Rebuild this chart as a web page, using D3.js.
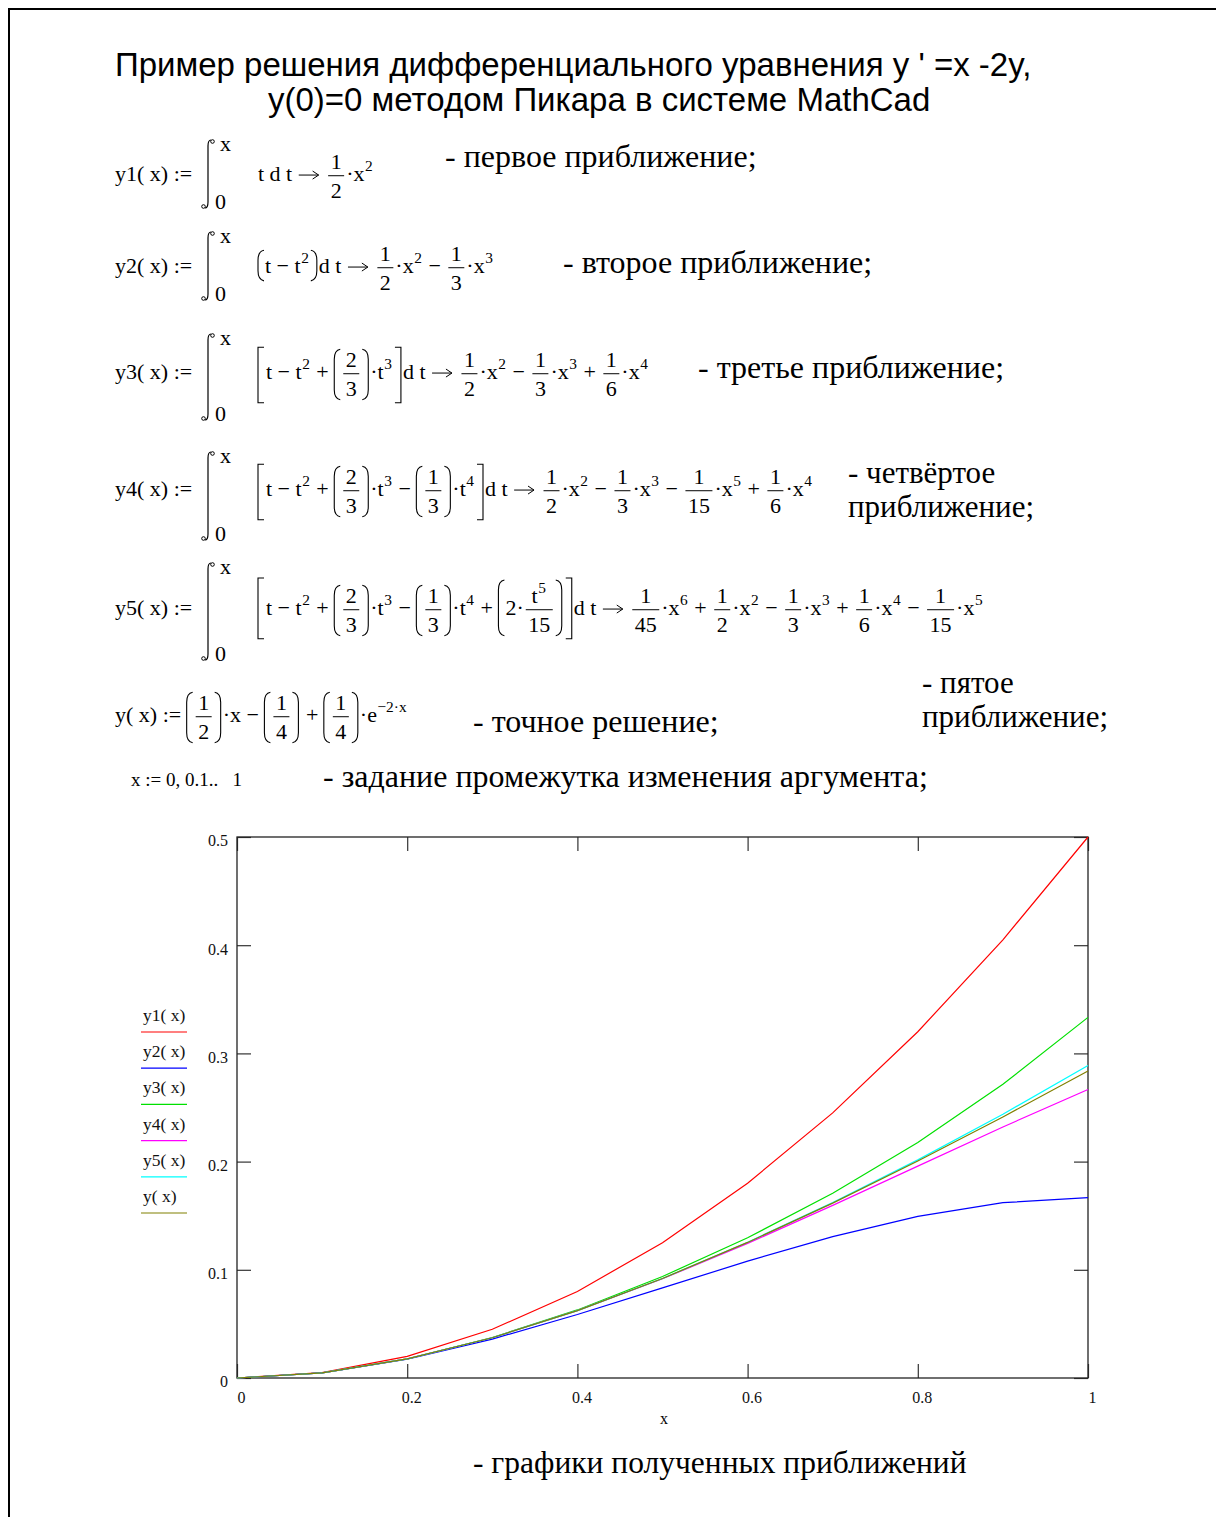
<!DOCTYPE html>
<html>
<head>
<meta charset="utf-8">
<script src="https://cdn.jsdelivr.net/npm/d3@7"></script>
<style>
  body { margin: 0; background: #fff; }
  svg text { white-space: pre; }
</style>
</head>
<body>
<script>
// ---- data: argument grid and the values of each approximation ----
const xValues  = [0, 0.1, 0.2, 0.3, 0.4, 0.5, 0.6, 0.7, 0.8, 0.9, 1];
const y1Values = [0, 0.005, 0.02, 0.045, 0.08, 0.125, 0.18, 0.245, 0.32, 0.405, 0.5];
const y2Values = [0, 0.0047, 0.0173, 0.036, 0.0587, 0.0833, 0.108, 0.1307, 0.1493, 0.162, 0.1667];
const y3Values = [0, 0.0047, 0.0176, 0.0374, 0.0629, 0.0938, 0.1296, 0.1707, 0.2176, 0.2714, 0.3333];
const y4Values = [0, 0.0047, 0.0176, 0.0372, 0.0623, 0.0917, 0.1244, 0.1595, 0.1958, 0.232, 0.2667];
const y5Values = [0, 0.0047, 0.0176, 0.0372, 0.0623, 0.092, 0.1255, 0.1621, 0.2016, 0.2438, 0.2889];
const yExactValues = [0, 0.0047, 0.0176, 0.0372, 0.0623, 0.092, 0.1253, 0.1616, 0.2005, 0.2413, 0.2838];

const seriesNames  = ["y1( x)", "y2( x)", "y3( x)", "y4( x)", "y5( x)", "y( x)"];
const seriesColors = ["#ff0000", "#0000ff", "#00e000", "#ff00ff", "#00ffff", "#808000"];
const seriesValues = [y1Values, y2Values, y3Values, y4Values, y5Values, yExactValues];

const xTickValues = [0, 0.2, 0.4, 0.6, 0.8, 1];
const xTickLabels = ["0", "0.2", "0.4", "0.6", "0.8", "1"];
const yTickValues = [0, 0.1, 0.2, 0.3, 0.4, 0.5];
const yTickLabels = ["0", "0.1", "0.2", "0.3", "0.4", "0.5"];

// ---- page ----
const W = 1216, H = 1517;
const SERIF = "'Liberation Serif','Times New Roman',serif";
const SANS  = "'Liberation Sans',Arial,sans-serif";
const svg = d3.select("body").append("svg").attr("width", W).attr("height", H);

svg.append("path").attr("d", `M9,${H} V9 H${W}`)
  .attr("fill", "none").attr("stroke", "#000").attr("stroke-width", 2);

function text(g, x, y, s, fs, fam) {
  return g.append("text").attr("x", x).attr("y", y)
    .style("font-family", fam || SERIF).style("font-size", fs + "px")
    .attr("fill", "#000").text(s);
}

// title
text(svg, 115, 76, "Пример решения дифференциального уравнения y ' =x -2y,", 33, SANS);
text(svg, 268, 111, "y(0)=0 методом Пикара в системе MathCad", 33, SANS);

// ---- a tiny formula typesetter ----
const FS = 22;
const F = (n, d) => ({ frac: [[].concat(n), [].concat(d)] });
const P = (...c) => ({ paren: c });
const B = (...c) => ({ brack: c });
const U = s => ({ sup: s });
const A = { arrow: true };

function run(g, items, fs) {
  let x = 0, asc = fs * 0.7, desc = fs * 0.22;
  for (const it of items) {
    if (typeof it === "string") {
      const t = text(g, x, 0, it, fs);
      x += t.node().getComputedTextLength();
    } else if ("arrow" in it) {
      const y = -fs * 0.27, L = fs * 0.95;
      g.append("path")
        .attr("d", `M${x + 1},${y} H${x + L} M${x + L - 6},${y - 4} L${x + L},${y} L${x + L - 6},${y + 4}`)
        .attr("fill", "none").attr("stroke", "#000").attr("stroke-width", 1);
      x += L + 2;
    } else if ("sup" in it) {
      const s = fs * 0.7;
      const t = text(g, x + 0.5, -fs * 0.45, it.sup, s);
      x += t.node().getComputedTextLength() + 1.5;
      asc = Math.max(asc, fs * 0.45 + s * 0.7);
    } else if ("frac" in it) {
      const gn = g.append("g"), gd = g.append("g");
      const n = run(gn, it.frac[0], fs), d = run(gd, it.frac[1], fs);
      const w = Math.max(n.w, d.w) + 9;
      const bar = -fs * 0.24;
      const ny = bar - 7, dy = bar + 7 + fs * 0.68;
      gn.attr("transform", `translate(${x + (w - n.w) / 2},${ny})`);
      gd.attr("transform", `translate(${x + (w - d.w) / 2},${dy})`);
      g.append("line").attr("x1", x + 2).attr("x2", x + w - 2)
        .attr("y1", bar).attr("y2", bar).attr("stroke", "#000").attr("stroke-width", 1);
      asc = Math.max(asc, -ny + n.asc);
      desc = Math.max(desc, dy + fs * 0.05);
      x += w;
    } else if ("paren" in it || "brack" in it) {
      const isB = "brack" in it;
      const gi = g.append("g");
      const r = run(gi, isB ? it.brack : it.paren, fs);
      const top = -r.asc - 2, bot = r.desc + 3;
      const pw = 6, pad = isB ? 8 : 7;
      const k = Math.min(10, (bot - top) / 3);
      const left = isB
        ? `M${x + pw},${top} H${x} V${bot} H${x + pw}`
        : `M${x + pw},${top} Q${x},${top + 1} ${x},${top + k} L${x},${bot - k} Q${x},${bot - 1} ${x + pw},${bot}`;
      const xr = x + pad + r.w + pad;
      const right = isB
        ? `M${xr - pw},${top} H${xr} V${bot} H${xr - pw}`
        : `M${xr - pw},${top} Q${xr},${top + 1} ${xr},${top + k} L${xr},${bot - k} Q${xr},${bot - 1} ${xr - pw},${bot}`;
      g.append("path").attr("d", left + right).attr("fill", "none")
        .attr("stroke", "#000").attr("stroke-width", 1.1);
      gi.attr("transform", `translate(${x + pad},0)`);
      asc = Math.max(asc, -top); desc = Math.max(desc, bot);
      x = xr + 2;
    }
  }
  return { w: x, asc, desc };
}

function formula(x, y, items, fs) {
  const g = svg.append("g").attr("transform", `translate(${x},${y})`);
  return run(g, items, fs || FS);
}

function integral(X, top, bot) {
  const g = svg.append("g");
  g.append("path")
    .attr("d", `M${X + 3},${top} Q${X},${top} ${X},${top + 6} L${X},${bot - 6} Q${X},${bot} ${X - 3},${bot}`)
    .attr("fill", "none").attr("stroke", "#000").attr("stroke-width", 1.2);
  g.append("circle").attr("cx", X + 4.5).attr("cy", top + 1.5).attr("r", 1.8)
    .attr("fill", "none").attr("stroke", "#000").attr("stroke-width", 1);
  g.append("circle").attr("cx", X - 4.5).attr("cy", bot - 1.5).attr("r", 1.8)
    .attr("fill", "none").attr("stroke", "#000").attr("stroke-width", 1);
  text(g, X + 12, top + 11, "x", FS);
  text(g, X + 7, bot + 1, "0", FS);
}

const CFS = 32; // comment font size

// row 1
formula(115, 181, ["y1( x) :="]);
integral(208, 140, 208);
formula(258, 181, ["t d t ", A, " ", F("1", "2"), "·x", U("2")]);
text(svg, 445, 167, "- первое приближение;", CFS);

// row 2
formula(115, 273, ["y2( x) :="]);
integral(208, 232, 300);
formula(258, 273, [P("t − t", U("2")), "d t ", A, " ", F("1", "2"), "·x", U("2"), " − ", F("1", "3"), "·x", U("3")]);
text(svg, 563, 273, "- второе приближение;", CFS);

// row 3
formula(115, 379, ["y3( x) :="]);
integral(208, 334, 420);
formula(258, 379, [B("t − t", U("2"), " + ", P(F("2", "3")), "·t", U("3")), "d t ", A, " ",
  F("1", "2"), "·x", U("2"), " − ", F("1", "3"), "·x", U("3"), " + ", F("1", "6"), "·x", U("4")]);
text(svg, 698, 378, "- третье приближение;", CFS);

// row 4
formula(115, 496, ["y4( x) :="]);
integral(208, 452, 540);
formula(258, 496, [B("t − t", U("2"), " + ", P(F("2", "3")), "·t", U("3"), " − ", P(F("1", "3")), "·t", U("4")), "d t ", A, " ",
  F("1", "2"), "·x", U("2"), " − ", F("1", "3"), "·x", U("3"), " − ", F("1", "15"), "·x", U("5"), " + ", F("1", "6"), "·x", U("4")]);
text(svg, 848, 483, "- четвёртое", 31);
text(svg, 848, 517, "приближение;", 31);

// row 5
formula(115, 615, ["y5( x) :="]);
integral(208, 563, 660);
formula(258, 615, [B("t − t", U("2"), " + ", P(F("2", "3")), "·t", U("3"), " − ", P(F("1", "3")), "·t", U("4"), " + ",
  P("2·", F(["t", U("5")], "15"))), "d t ", A, " ",
  F("1", "45"), "·x", U("6"), " + ", F("1", "2"), "·x", U("2"), " − ", F("1", "3"), "·x", U("3"),
  " + ", F("1", "6"), "·x", U("4"), " − ", F("1", "15"), "·x", U("5")]);

// row 6: exact solution
formula(115, 722, ["y( x) := ", P(F("1", "2")), "·x − ", P(F("1", "4")), " + ", P(F("1", "4")), "·e", U("−2·x")]);
text(svg, 473, 732, "- точное решение;", CFS);
text(svg, 922, 693, "- пятое", 31);
text(svg, 922, 727, "приближение;", 31);

// row 7: range of the argument
formula(131, 786, ["x := 0, 0.1..   1"], 19);
text(svg, 323, 787, "- задание промежутка изменения аргумента;", CFS);

// ---- plot ----
const xScale = d3.scaleLinear().domain([0, 1]).range([237, 1088]);
const yScale = d3.scaleLinear().domain([0, 0.5]).range([1378, 837]);
const plot = svg.append("g");

function styleAxis(sel, labels) {
  sel.select(".domain").remove();
  sel.selectAll(".tick line").attr("stroke", "#333").attr("stroke-width", 1.2);
  sel.selectAll(".tick text").style("font-family", SERIF).style("font-size", "16px").attr("fill", "#111");
  if (!labels) sel.selectAll(".tick text").remove();
}

plot.append("g").attr("transform", `translate(237,0)`)
  .call(d3.axisLeft(yScale).tickValues(yTickValues).tickFormat((d, i) => yTickLabels[i])
    .tickSize(-14).tickSizeOuter(0).tickPadding(9))
  .call(s => styleAxis(s, true))
  .call(s => s.selectAll(".tick text").attr("dy", "0.55em"));
plot.append("g").attr("transform", `translate(1088,0)`)
  .call(d3.axisRight(yScale).tickValues(yTickValues).tickSize(-14).tickSizeOuter(0))
  .call(s => styleAxis(s, false));
plot.append("g").attr("transform", `translate(0,1378)`)
  .call(d3.axisBottom(xScale).tickValues(xTickValues).tickFormat((d, i) => xTickLabels[i])
    .tickSize(-14).tickSizeOuter(0).tickPadding(14))
  .call(s => styleAxis(s, true))
  .call(s => s.selectAll(".tick text").attr("dx", 4));
plot.append("g").attr("transform", `translate(0,837)`)
  .call(d3.axisTop(xScale).tickValues(xTickValues).tickSize(-14).tickSizeOuter(0))
  .call(s => styleAxis(s, false));

// frame
plot.append("rect")
  .attr("x", xScale(0)).attr("y", yScale(0.5))
  .attr("width", xScale(1) - xScale(0)).attr("height", yScale(0) - yScale(0.5))
  .attr("fill", "none").attr("stroke", "#222").attr("stroke-width", 1.3);

// curves
const line = d3.line().x((d, i) => xScale(xValues[i])).y(d => yScale(d));
seriesValues.forEach((vals, i) => {
  plot.append("path").datum(vals).attr("d", line)
    .attr("fill", "none").attr("stroke", seriesColors[i]).attr("stroke-width", 1.2);
});

// axis title
plot.append("text").attr("x", 664).attr("y", 1424).attr("text-anchor", "middle")
  .style("font-family", SERIF).style("font-size", "16px").text("x");

// legend
const legend = svg.append("g");
seriesNames.forEach((name, i) => {
  const ly = 1032 + i * 36.2;
  text(legend, 143, ly - 11, name, 17.5).attr("fill", "#111");
  legend.append("line").attr("x1", 141).attr("x2", 187).attr("y1", ly).attr("y2", ly)
    .attr("stroke", seriesColors[i]).attr("stroke-width", 1.2);
});

// caption under the plot
text(svg, 473, 1473, "- графики полученных приближений", 31.5);
</script>
</body>
</html>
